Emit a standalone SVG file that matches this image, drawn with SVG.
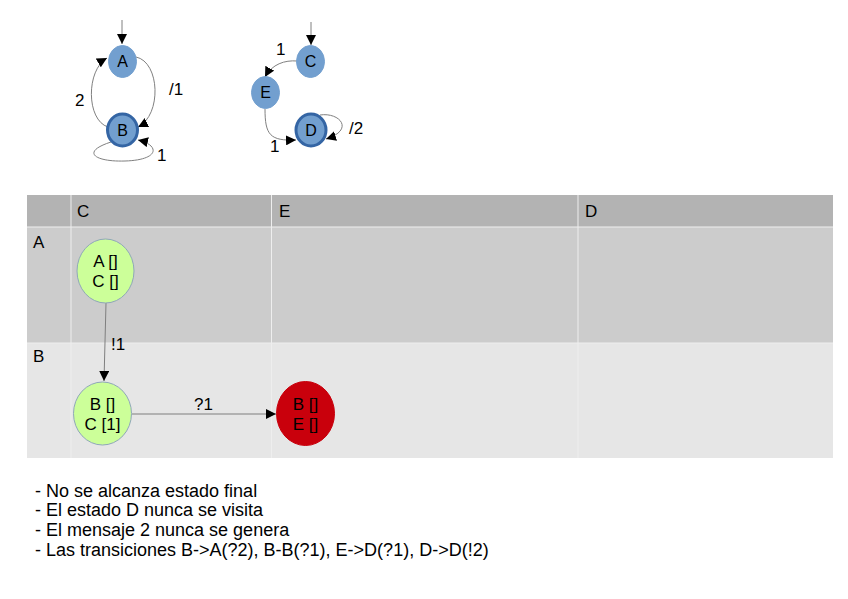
<svg xmlns="http://www.w3.org/2000/svg" width="848" height="599" viewBox="0 0 848 599">
<style>
text{font-family:"Liberation Sans",Arial,sans-serif;fill:#000}
.st{fill:#729fcf;stroke:#729fcf;stroke-width:1}
.fin{fill:#729fcf;stroke:#3465a4;stroke-width:3}
.e{fill:none;stroke:#808080;stroke-width:1}
.e2{fill:none;stroke:#7f7f7f;stroke-width:1}
.lbl{font-size:17px}
.nl{font-size:16px;text-anchor:middle}
.nl2{font-size:17px;text-anchor:middle}
.hdr{font-size:17px}
.grid{stroke:#eeeeee;stroke-width:1}
.gn{fill:#ccff99;stroke:#8fa8b8;stroke-width:1}
.rn{fill:#c9000c;stroke:#c9000c;stroke-width:1}
.note{font-size:18px}
</style>
<defs>
<marker id="ah" viewBox="0 0 10 10" refX="10" refY="5" markerWidth="10" markerHeight="10" markerUnits="userSpaceOnUse" orient="auto">
<path d="M0,0 L10,5 L0,10 z" fill="#000"/>
</marker>
<marker id="ah2" viewBox="0 0 10 10" refX="10" refY="5" markerWidth="12" markerHeight="10" markerUnits="userSpaceOnUse" orient="auto">
<path d="M0,0 L10,5 L0,10 z" fill="#000"/>
</marker>
</defs>
<g id="table">
<rect x="27" y="195" width="806" height="32" fill="#b3b3b3"/>
<rect x="27" y="227" width="806" height="116" fill="#cccccc"/>
<rect x="27" y="343" width="806" height="115" fill="#e6e6e6"/>
<line class="grid" x1="71" y1="195" x2="71" y2="458"/>
<line class="grid" x1="271.5" y1="195" x2="271.5" y2="458"/>
<line class="grid" x1="578" y1="195" x2="578" y2="458"/>
<line class="grid" x1="27" y1="227" x2="833" y2="227"/>
<line class="grid" x1="27" y1="343" x2="833" y2="343"/>
<text class="hdr" x="77" y="217">C</text>
<text class="hdr" x="279" y="217">E</text>
<text class="hdr" x="585" y="217">D</text>
<text class="hdr" x="33" y="248">A</text>
<text class="hdr" x="33" y="362">B</text>
</g>
<g id="connectors">
<line class="e" x1="122" y1="20" x2="122" y2="44" marker-end="url(#ah)"/>
<path class="e" d="M136,57 C160,62 162,115 138,127" marker-end="url(#ah)"/>
<path class="e" d="M108,127 C86,120 86,70 107,58" marker-end="url(#ah)"/>
<path class="e" d="M111,142 C80,152 95,162 125,161 C160,160 160,145 138,140" marker-end="url(#ah)"/>
<line class="e" x1="311" y1="22" x2="311" y2="45" marker-end="url(#ah)"/>
<path class="e" d="M297,61 C285,60 272,64 265,77" marker-end="url(#ah)"/>
<path class="e" d="M265,109 C265,135 270,141 296,140" marker-end="url(#ah)"/>
<path class="e" d="M320,115 C340,112 355,130 326,139" marker-end="url(#ah)"/>
<path class="e2" d="M106,303 L104,381" marker-end="url(#ah2)"/>
<line class="e2" x1="132" y1="414" x2="276" y2="414" marker-end="url(#ah2)"/>
<text class="lbl" x="169" y="95">/1</text>
<text class="lbl" x="75" y="106">2</text>
<text class="lbl" x="157" y="161">1</text>
<text class="lbl" x="276" y="55">1</text>
<text class="lbl" x="270" y="152">1</text>
<text class="lbl" x="349" y="134">/2</text>
<text class="lbl" x="111" y="350">!1</text>
<text class="lbl" x="194" y="410">?1</text>
</g>
<g id="node-A">
<ellipse class="st" cx="122.5" cy="61.5" rx="14" ry="16"/>
<text class="nl" x="122.5" y="67">A</text>
</g>
<g id="node-B">
<ellipse class="fin" cx="122.5" cy="130" rx="15" ry="16"/>
<text class="nl" x="122.5" y="135.5">B</text>
</g>
<g id="node-C">
<ellipse class="st" cx="310.5" cy="61.5" rx="14" ry="16"/>
<text class="nl" x="310.5" y="67">C</text>
</g>
<g id="node-E">
<ellipse class="st" cx="265.5" cy="92.5" rx="14" ry="16"/>
<text class="nl" x="265.5" y="98">E</text>
</g>
<g id="node-D">
<ellipse class="fin" cx="311" cy="130" rx="15" ry="16"/>
<text class="nl" x="311" y="135.5">D</text>
</g>
<g id="node-AC">
<ellipse class="gn" cx="105.5" cy="271" rx="28.5" ry="32"/>
<text class="nl2" x="105.5" y="267">A []</text>
<text class="nl2" x="105.5" y="287">C []</text>
</g>
<g id="node-BC">
<ellipse class="gn" cx="102.5" cy="413.5" rx="29" ry="31.5"/>
<text class="nl2" x="102.5" y="410">B []</text>
<text class="nl2" x="102.5" y="430">C [1]</text>
</g>
<g id="node-BE">
<ellipse class="rn" cx="305.5" cy="413.5" rx="29" ry="32"/>
<text class="nl2" x="305.5" y="410">B []</text>
<text class="nl2" x="305.5" y="430">E []</text>
</g>
<g id="notes">
<text class="note" x="35" y="497">- No se alcanza estado final</text>
<text class="note" x="35" y="516">- El estado D nunca se visita</text>
<text class="note" x="35" y="536">- El mensaje 2 nunca se genera</text>
<text class="note" x="35" y="556">- Las transiciones B-&gt;A(?2), B-B(?1), E-&gt;D(?1), D-&gt;D(!2)</text>
</g>
</svg>
